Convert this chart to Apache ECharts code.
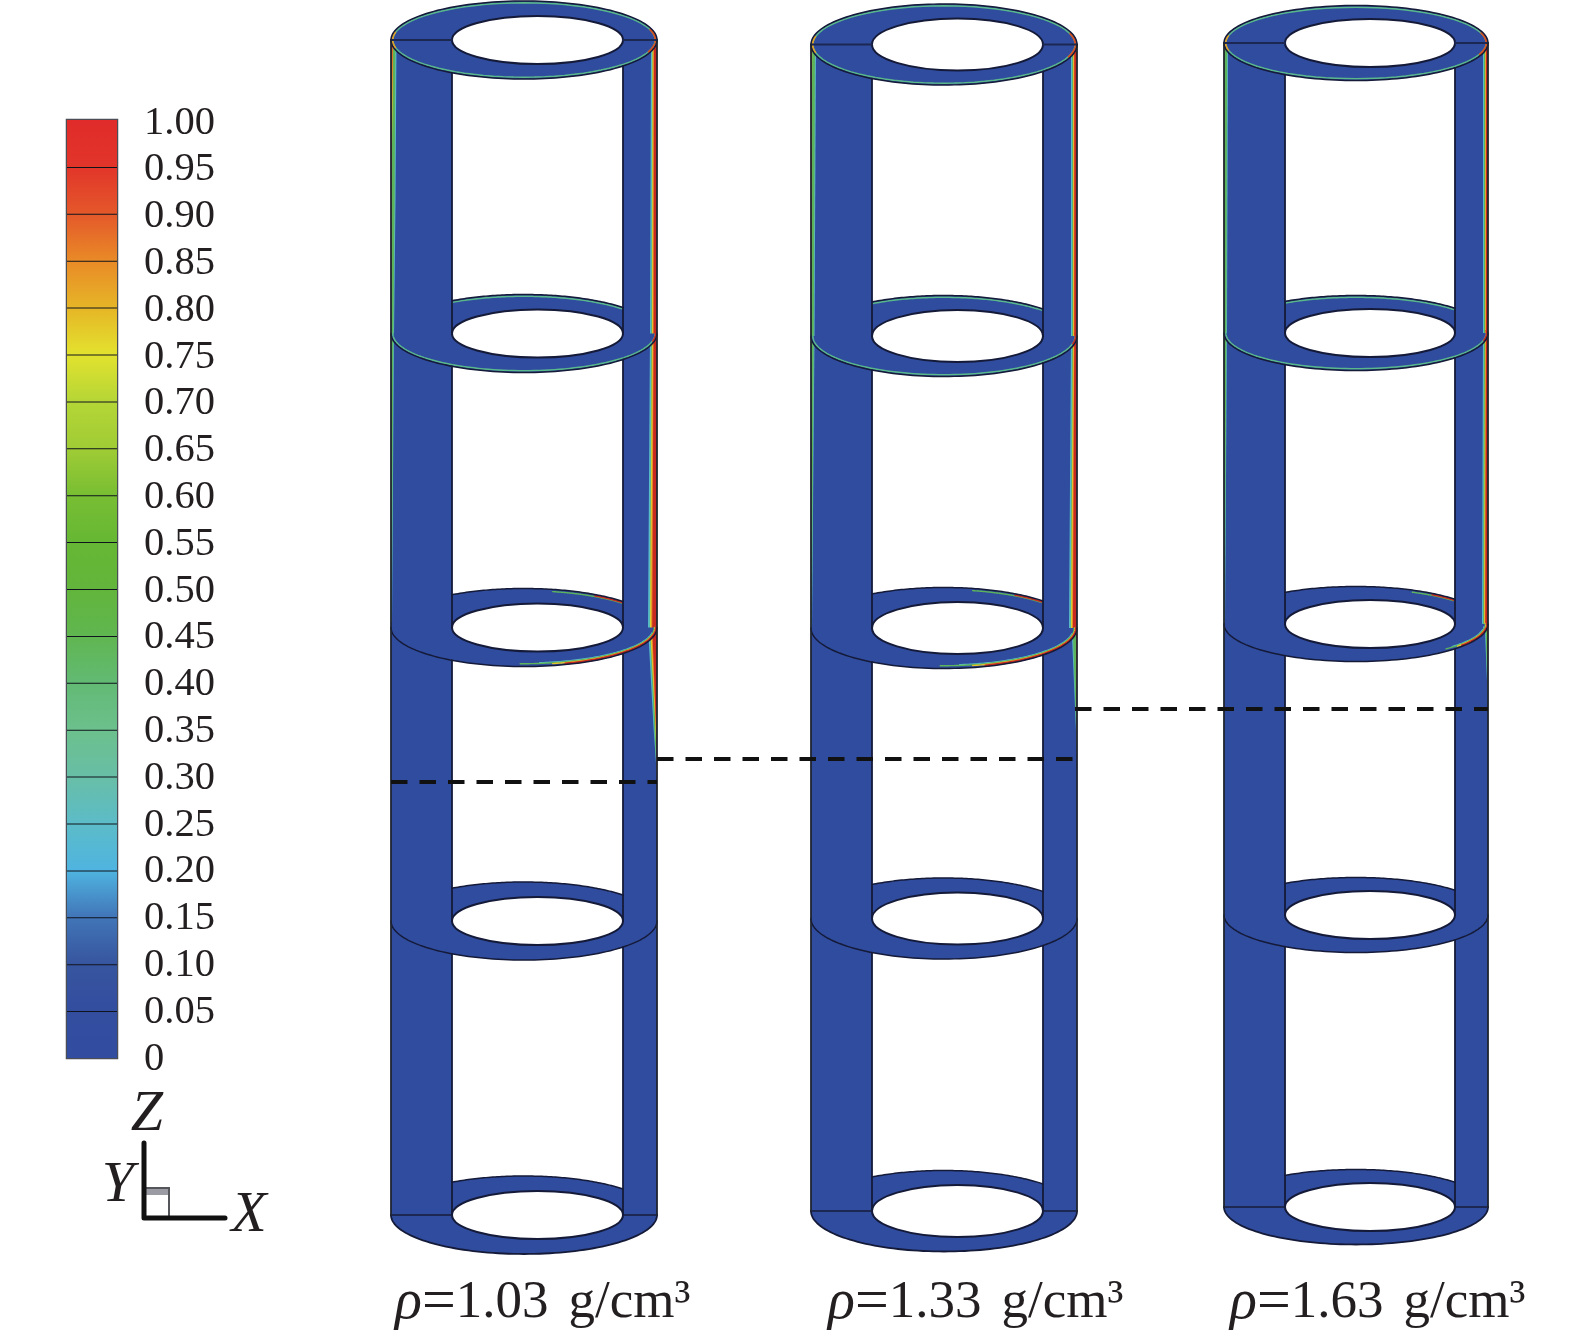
<!DOCTYPE html>
<html>
<head>
<meta charset="utf-8">
<style>html,body{margin:0;padding:0;background:#fff}#chart{width:1575px;height:1335px}</style>
<script src="https://cdn.jsdelivr.net/npm/echarts@6/dist/echarts.min.js"></script>
</head>
<body>
<div id="chart"></div>
<script>
// ---------- values ----------
const densities = ['1.03', '1.33', '1.63'];
const outerLeft = [391, 811, 1224];
const outerRight = [657, 1077, 1488];
const innerLeft = [452, 872, 1285];
const innerRight = [623, 1043, 1455];
const ringLevels = [
  [40, 333.5, 627.5, 921, 1215],
  [44.5, 336, 628, 918.5, 1211],
  [43, 333, 624, 915, 1207]
];
const rimRadiusY = [39, 40.5, 37.5];
const holeRadiusY = [24, 26, 24];
// rim contour state per ring: 0 clean, 1 thin film, above 1 thick film on the right (excess = extent)
const ringHeat = [
  [1, 1, 2, 0, 0],
  [1, 1, 2, 0, 0],
  [1, 1, 1.5, 0, 0]
];
// contour film on the wall: [height, film width, hot core width]
const rightFilm = [
  [[40, 6, 4.5], [333, 7, 5], [627, 9, 7], [727, 3.5, 1.5], [778, 0, 0]],
  [[44, 6, 4], [336, 6, 4], [628, 8, 6], [636, 5, 1], [755, 0, 0]],
  [[42, 5, 3], [332, 5, 3], [623, 6, 4], [632, 3, 0.5], [706, 0, 0]]
];
const leftFilm = [
  [[40, 5.5, 2.2], [200, 4.5, 0.4], [335, 3, 0], [622, 1, 0]],
  [[44, 5, 1.2], [336, 3.5, 0], [628, 1, 0]],
  [[42, 4, 0], [332, 3, 0], [623, 1, 0]]
];
const interfaceA = [[391, 782], [657, 782]];
const interfaceB = [[657, 759], [1077, 759]];
const interfaceC = [[1075, 709], [1488, 709]];
const captionX = [395, 828, 1230];
const captionY = 1303;
const scaleTicks = ['0', '0.05', '0.10', '0.15', '0.20', '0.25', '0.30', '0.35', '0.40', '0.45', '0.50',
  '0.55', '0.60', '0.65', '0.70', '0.75', '0.80', '0.85', '0.90', '0.95', '1.00'];
const scaleColors = ['#324c9f', '#334d9f', '#37559f', '#4175b8', '#4fb4e0', '#5cbcc8', '#68bea6', '#6cc08c',
  '#62ba74', '#60b650', '#62b53b', '#66b734', '#78be33', '#a0cc35', '#b5d636', '#e3e22e',
  '#e6b527', '#e98a27', '#e4582a', '#e2352a', '#e02b2a'];
const triadLine = [[144, 1143], [144, 1218], [225, 1218]];
const triadBox = [144, 1188, 169, 1218, 1195];
const triadLabels = [['Z', 147, 1115], ['Y', 118, 1186], ['X', 249, 1216]];

const BLUE = '#304c9e', DARK = '#141a38', SERIF = '"Liberation Serif","Times New Roman",serif';
const INK = '#231f20';

function renderCylinder(params, api) {
  const c = params.dataIndex;
  const oL = outerLeft[c], oR = outerRight[c], iL = innerLeft[c], iR = innerRight[c];
  const cx = (oL + oR) / 2, rx = (oR - oL) / 2, ry = rimRadiusY[c];
  const hx = (iL + iR) / 2, hrx = (iR - iL) / 2, hry = holeRadiusY[c];
  const levels = ringLevels[c], last = levels.length - 1;
  const kids = [];
  const P = (x, y) => api.coord([x, y]);
  const arc = (cy, a0, a1, inset) => {
    inset = inset || 0;
    const pts = [], n = 80;
    for (let k = 0; k <= n; k++) {
      const t = a0 + (a1 - a0) * k / n;
      pts.push(P(cx + (rx - inset) * Math.cos(t), cy + (ry - inset) * Math.sin(t)));
    }
    return pts;
  };
  const poly = (points, fill) => kids.push({type: 'polygon', shape: {points}, style: {fill}});
  const stroke = (points, color, w) => kids.push({type: 'polyline', shape: {points},
    style: {fill: null, stroke: color, lineWidth: w, lineCap: 'round'}});
  const backR = -Math.acos((iR - cx) / rx), backL = -Math.acos((iL - cx) / rx);
  const frontY = (cy, x) => cy + ry * Math.sqrt(1 - Math.pow((x - cx) / rx, 2));

  // wall strips
  const top = levels[0], bot = levels[last];
  poly([P(oL, top), P(iL, top), P(iL, bot), P(oL, bot)], BLUE);
  poly([P(iR, top), P(oR, top), P(oR, bot), P(iR, bot)], BLUE);

  // contour film on the walls
  const film = (rows, edge, dir, widthOf, color) => {
    const pts = rows.map(r => P(edge, r[0]));
    rows.slice().reverse().forEach(r => pts.push(P(edge + dir * widthOf(r), r[0])));
    poly(pts, color);
  };
  [[1, '#58bcc8'], [2, '#5cb35a'], [3, '#e3d22e'], [4, '#e7902a'], [5, '#c92a20']].forEach(([step, color]) => {
    const w = step === 1 ? r => r[1] : step === 2 ? r => r[1] * 0.8 : step === 3 ? r => r[2] : step === 4 ? r => r[2] * 0.85 : r => r[2] * 0.68;
    film(rightFilm[c], oR, -1, w, color);
    film(leftFilm[c], oL, 1, w, color);
  });

  // rings
  levels.forEach((cy, i) => {
    const isTop = i === 0, isBot = i === last;
    if (isTop) {
      const pc = P(cx, cy);
      kids.push({type: 'ellipse', shape: {cx: pc[0], cy: pc[1], rx, ry}, style: {fill: BLUE}});
    } else {
      poly(arc(cy, 0, Math.PI), BLUE);
      poly(arc(cy, backL, backR).concat([P(iR, cy), P(iL, cy)]), BLUE);
    }
    const heat = ringHeat[c][i];
    if (heat === 1) {
      if (isTop) stroke(arc(cy, 0, 2 * Math.PI, 1.8), '#5ab98a', 1.5);
      else {
        stroke(arc(cy, 0, Math.PI, 1.8), '#5ab98a', 1.5);
        stroke(arc(cy, backL, backR, 1.8), '#5ab98a', 1.5);
      }
    }
    if (heat > 1) {
      const s = heat - 1;
      stroke(arc(cy, 0.15 * s, 1.45 * s, 3.6), '#58bcc8', 1.2);
      stroke(arc(cy, 0, 1.6 * s, 2.8), '#5cb35a', 1.4);
      stroke(arc(cy, 0, 1.35 * s, 2), '#e3c22e', 1.4);
      stroke(arc(cy, 0, 1.25 * s, 1), '#c92a20', 2.2);
      stroke(arc(cy, Math.max(-1.35, backR - 0.8 * s), backR, 2.2), '#5cb35a', 1.4);
      stroke(arc(cy, Math.max(-1.0, backR - 0.45 * s), backR, 1.4), '#c92a20', 1.6);
    }
    if (isTop) {
      stroke(arc(cy, -0.28, 0.32, 1.6), '#d8501f', 2);
      stroke(arc(cy, Math.PI - 0.2, Math.PI + 0.2, 1.6), '#e0a028', 1.8);
    } else if (heat === 1) {
      stroke(arc(cy, -0.06, 0.2, 1.4), '#c92a20', 1.8);
    }
    // hole
    const hc = P(hx, cy);
    kids.push({type: 'ellipse', shape: {cx: hc[0], cy: hc[1], rx: hrx, ry: hry},
      style: {fill: '#fff', stroke: DARK, lineWidth: 2}});
    // rim lines
    stroke(arc(cy, 0, Math.PI), DARK, isBot ? 1.8 : 1.5);
    stroke(isTop ? arc(cy, Math.PI, 2 * Math.PI) : arc(cy, backL, backR), DARK, 1.5);
    if (isTop || isBot) {
      stroke([P(oL, cy), P(iL, cy)], '#1c2752', 2);
      stroke([P(iR, cy), P(oR, cy)], '#1c2752', 2);
    }
  });

  // wall edges
  stroke([P(oL, top), P(oL, bot)], '#20242e', 1.8);
  stroke([P(oR, top), P(oR, bot)], '#20242e', 1.8);
  for (let i = 0; i < last; i++) {
    stroke([P(iL, frontY(levels[i], iL)), P(iL, levels[i + 1])], DARK, 1.8);
    stroke([P(iR, frontY(levels[i], iR)), P(iR, levels[i + 1])], DARK, 1.8);
  }

  // caption
  const cp = P(captionX[c], captionY);
  kids.push({type: 'text', style: {
    text: '{r|ρ}{e|=}' + densities[c] + '{s|  }g/cm³', x: cp[0], y: cp[1], align: 'left', verticalAlign: 'middle',
    font: '53px ' + SERIF, fill: INK,
    rich: {
      r: {font: 'italic 56px ' + SERIF, fill: INK},
      e: {font: '60px ' + SERIF, fill: INK},
      s: {font: '40px ' + SERIF, fill: INK}
    }
  }});
  return {type: 'group', children: kids};
}

function renderScale(params, api) {
  const i = api.value(0), lo = i / 20, hi = (i + 1) / 20;
  const a = api.coord([0, hi]), b = api.coord([1, lo]);
  const kids = [{type: 'rect', shape: {x: a[0], y: a[1], width: b[0] - a[0], height: b[1] - a[1]}, style: {
    fill: new echarts.graphic.LinearGradient(0, 0, 0, 1, [
      {offset: 0, color: scaleColors[i + 1]}, {offset: 1, color: scaleColors[i]}])
  }}];
  if (i < 19) kids.push({type: 'line', shape: {x1: a[0], y1: a[1], x2: b[0], y2: a[1]},
    style: {stroke: '#10141c', lineWidth: 2}});
  return {type: 'group', children: kids};
}

function renderTriad(params, api) {
  const P = (x, y) => api.coord([x, y]);
  const [x0, y0, x1, y1, yb] = triadBox;
  const kids = [
    {type: 'polygon', shape: {points: [P(x0, y0), P(x1, y0), P(x1, yb), P(x0, yb)]}, style: {fill: '#9a9ba3'}},
    {type: 'polygon', shape: {points: [P(x0, y0), P(x1, y0), P(x1, y1), P(x0, y1)]},
      style: {fill: null, stroke: '#55565c', lineWidth: 2}},
    {type: 'polyline', shape: {points: triadLine.map(p => P(p[0], p[1]))},
      style: {fill: null, stroke: '#111', lineWidth: 5, lineJoin: 'round', lineCap: 'round'}}
  ];
  triadLabels.forEach(t => {
    const p = P(t[1], t[2]);
    kids.push({type: 'text', style: {text: t[0], x: p[0], y: p[1], align: 'center', verticalAlign: 'middle',
      font: 'italic 58px ' + SERIF, fill: INK}});
  });
  return {type: 'group', children: kids};
}

const dash = pts => ({type: 'line', xAxisIndex: 0, yAxisIndex: 0, data: pts, showSymbol: false, silent: true, z: 5,
  lineStyle: {color: '#111', width: 4, type: [16.5, 12], cap: 'butt'}});

const chart = echarts.init(document.getElementById('chart'), null, {renderer: 'canvas'});
chart.setOption({
  animation: false,
  backgroundColor: '#fff',
  grid: [
    {left: 0, top: 0, width: 1575, height: 1335},
    {left: 67, top: 120, width: 50, height: 938, show: true, borderColor: '#4c4e55', borderWidth: 2.5, backgroundColor: 'transparent'},
    {left: 144, top: 123, width: 100, height: 936}
  ],
  xAxis: [
    {type: 'value', gridIndex: 0, min: 0, max: 1575, show: false},
    {type: 'value', gridIndex: 1, min: 0, max: 1, show: false},
    {type: 'value', gridIndex: 2, min: 0, max: 1, show: false}
  ],
  yAxis: [
    {type: 'value', gridIndex: 0, min: 0, max: 1335, inverse: true, show: false},
    {type: 'value', gridIndex: 1, min: 0, max: 1, show: false},
    {type: 'category', gridIndex: 2, data: scaleTicks, boundaryGap: false,
      axisLine: {show: false}, axisTick: {show: false}, splitLine: {show: false},
      axisLabel: {show: true, interval: 0, inside: true, margin: 0, align: 'left',
        fontFamily: SERIF, fontSize: 40.5, color: INK}}
  ],
  series: [
    {type: 'custom', coordinateSystem: 'cartesian2d', xAxisIndex: 0, yAxisIndex: 0,
      data: densities.map((d, i) => [i, i]), encode: {x: 0, y: 1}, clip: false, silent: true, renderItem: renderCylinder},
    dash(interfaceA), dash(interfaceB), dash(interfaceC),
    {type: 'custom', coordinateSystem: 'cartesian2d', xAxisIndex: 1, yAxisIndex: 1,
      data: scaleColors.slice(1).map((c, i) => [i]), encode: {y: 0}, clip: false, silent: true, renderItem: renderScale},
    {type: 'custom', coordinateSystem: 'cartesian2d', xAxisIndex: 0, yAxisIndex: 0,
      data: [[0, 0]], encode: {x: 0, y: 1}, clip: false, silent: true, renderItem: renderTriad},
    {type: 'scatter', xAxisIndex: 2, yAxisIndex: 2, symbolSize: 0, silent: true,
      data: scaleTicks.map(t => [0, t])}
  ]
});
</script>
</body>
</html>
